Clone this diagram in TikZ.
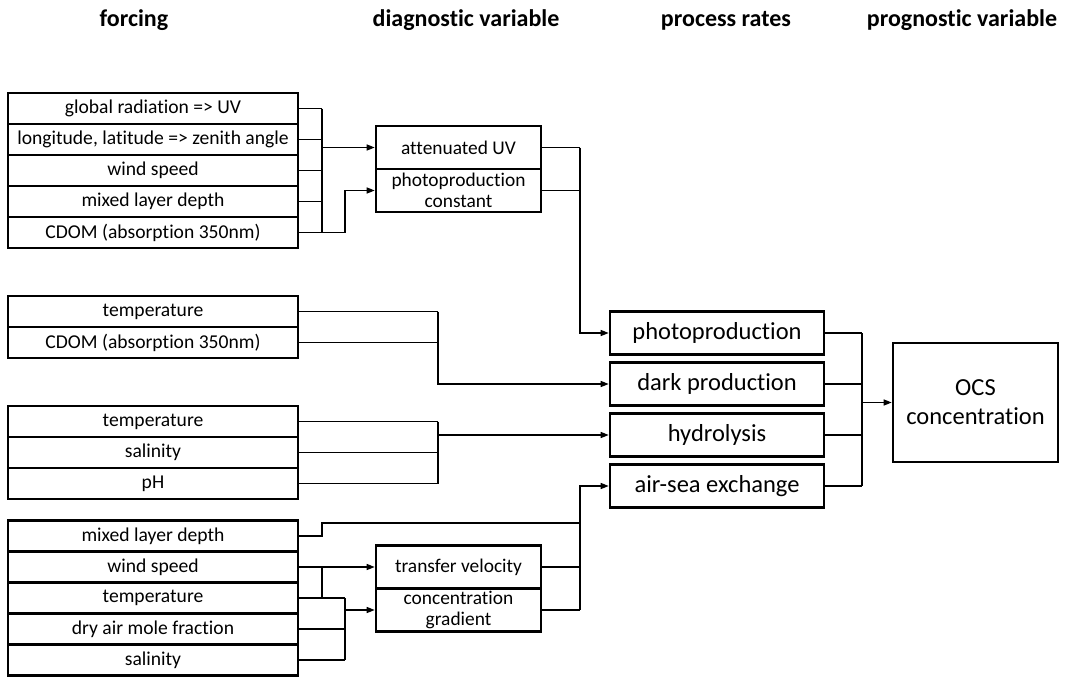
\documentclass[tikz,border=0pt]{standalone}
\usepackage{fontspec}
\setmainfont{Carlito}[Ligatures=NoCommon]
\usetikzlibrary{arrows.meta}
\begin{document}
\begin{tikzpicture}[x=1pt,y=-1pt,
  fbox/.style={draw, line width=2.6pt, minimum width=290pt, minimum height=31pt, inner sep=0pt, font=\fontsize{19.6}{22}\selectfont},
  dbox/.style={draw, line width=2.6pt, minimum width=165pt, minimum height=43pt, inner sep=0pt, align=center, font=\fontsize{19.4}{21}\selectfont},
  pbox/.style={draw, line width=2.6pt, minimum width=214pt, minimum height=43pt, inner sep=0pt, font=\fontsize{24.5}{28}\selectfont},
  obox/.style={draw, line width=2.6pt, minimum width=165pt, minimum height=119pt, inner sep=0pt, align=center, font=\fontsize{24.5}{29}\selectfont},
  hdr/.style={anchor=base, inner sep=0pt, font=\fontsize{24}{28}\selectfont\bfseries},
  conn/.style={line width=1.4pt},
  arr/.style={conn, -{Triangle[length=8pt,width=6pt]}}]
\useasboundingbox (0,0) rectangle (1068,677);

% headers
\node[hdr] (h1) at (134,27) {forcing};
\node[hdr] (h2) at (466,27) {diagnostic variable};
\node[hdr] (h3) at (726,27) {process rates};
\node[hdr] (h4) at (962,27) {prognostic variable};

% group 1
\node[fbox] (f11) at (153,108.5) {global radiation => UV};
\node[fbox] (f12) at (153,139.5) {longitude, latitude => zenith angle};
\node[fbox] (f13) at (153,170.5) {wind speed};
\node[fbox] (f14) at (153,201.5) {mixed layer depth};
\node[fbox] (f15) at (153,232.5) {CDOM (absorption 350nm)};

% group 2
\node[fbox] (f21) at (153,311.5) {temperature};
\node[fbox] (f22) at (153,342.5) {CDOM (absorption 350nm)};

% group 3
\node[fbox] (f31) at (153,421.5) {temperature};
\node[fbox] (f32) at (153,452.5) {salinity};
\node[fbox] (f33) at (153,483.5) {pH};

% group 4
\node[fbox] (f41) at (153,536) {mixed layer depth};
\node[fbox] (f42) at (153,567) {wind speed};
\node[fbox] (f43) at (153,598) {temperature};
\node[fbox] (f44) at (153,629) {dry air mole fraction};
\node[fbox] (f45) at (153,660) {salinity};

% diagnostic
\node[dbox] (d1a) at (458.5,147.5) {attenuated UV};
\node[dbox] (d1b) at (458.5,190.5) {photoproduction\\constant};
\node[dbox] (d2a) at (458.5,567) {transfer velocity};
\node[dbox] (d2b) at (458.5,610) {concentration\\gradient};

% process
\node[pbox] (p1) at (717,333) {photoproduction};
\node[pbox] (p2) at (717,384) {dark production};
\node[pbox] (p3) at (717,435) {hydrolysis};
\node[pbox] (p4) at (717,486) {air-sea exchange};

% prognostic
\node[obox] (ocs) at (975.5,402.5) {OCS\\concentration};

% bus coordinates
\coordinate (b1) at (322,0);
\coordinate (k1) at (345,0);
\coordinate (b3) at (438,0);
\coordinate (b2) at (580,0);
\coordinate (b4) at (862,0);
\coordinate (m1) at (322,523);

% group 1 connectors
\foreach \n in {f11,f12,f13,f14,f15} \draw[conn] (\n.east) -- (\n.east -| b1);
\draw[conn] (f11.east -| b1) -- (f15.east -| b1);
\draw[arr] (b1 |- d1a.west) -- (d1a.west);
\draw[arr] (f15.east -| b1) -| (k1 |- d1b.west) -- (d1b.west);

% diag 1 to photoproduction
\draw[conn] (d1a.east) -- (d1a.east -| b2);
\draw[conn] (d1b.east) -- (d1b.east -| b2);
\draw[arr] (d1a.east -| b2) |- (p1.west);

% group 2
\draw[conn] (f21.east) -- (f21.east -| b3);
\draw[conn] (f22.east) -- (f22.east -| b3);
\draw[arr] (f21.east -| b3) |- (p2.west);

% group 3
\foreach \n in {f31,f32,f33} \draw[conn] (\n.east) -- (\n.east -| b3);
\draw[conn] (f31.east -| b3) -- (f33.east -| b3);
\draw[arr] (b3 |- p3.west) -- (p3.west);

% group 4
\draw[conn] (f41.east) -| (m1) -- (m1 -| b2);
\draw[arr] (b2 |- d2b.east) |- (p4.west);
\draw[conn] (d2a.east) -- (d2a.east -| b2);
\draw[conn] (d2b.east) -- (d2b.east -| b2);
\draw[arr] (f42.east) -- (d2a.west);
\draw[conn] (f42.east -| b1) -- (f43.east -| b1);
\foreach \n in {f43,f44,f45} \draw[conn] (\n.east) -- (\n.east -| k1);
\draw[conn] (f43.east -| k1) -- (f45.east -| k1);
\draw[arr] (k1 |- d2b.west) -- (d2b.west);

% process to OCS
\foreach \n in {p1,p2,p3,p4} \draw[conn] (\n.east) -- (\n.east -| b4);
\draw[conn] (p1.east -| b4) -- (p4.east -| b4);
\draw[arr] (b4 |- ocs.west) -- (ocs.west);
\end{tikzpicture}
\end{document}
